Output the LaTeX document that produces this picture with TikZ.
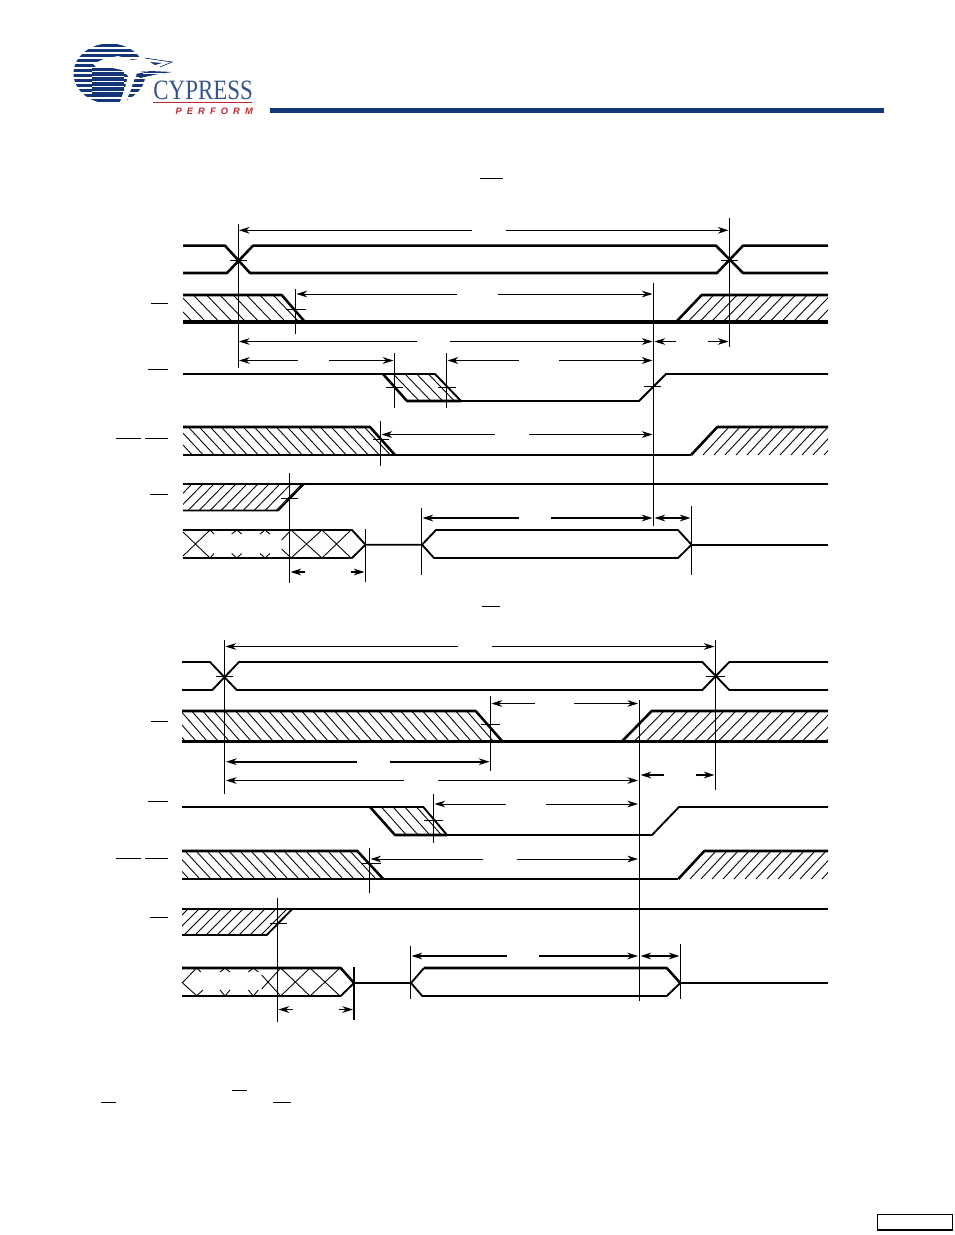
\documentclass[tikz,border=0pt]{standalone}
\usepackage{fontspec}
\setmainfont{Liberation Serif}
\newfontfamily\perffont{Liberation Sans}
\usetikzlibrary{arrows.meta}
\definecolor{cyblue}{RGB}{18,54,120}
\definecolor{cyred}{RGB}{190,40,50}
\tikzset{every picture/.style={line width=0.75pt},
  sigheavy/.style={line width=2.4pt,line join=round},
  sigthick/.style={line width=1.9pt,line join=round},
  sigmed/.style={line width=1.4pt,line join=round},
  hatchln/.style={line width=0.65pt},
  guide/.style={line width=0.7pt},
  tarr/.style={line width=0.7pt,-{Stealth[length=8pt,width=5pt]}},
  tarrb/.style={line width=0.7pt,{Stealth[length=8pt,width=5pt]}-},
  barr/.style={line width=1.4pt,-{Stealth[length=8pt,width=5pt]}},
  barrb/.style={line width=1.4pt,{Stealth[length=8pt,width=5pt]}-},
  barrd/.style={line width=1.4pt,{Stealth[length=8pt,width=5pt]}-{Stealth[length=8pt,width=5pt]}},
  ovbar/.style={line width=0.8pt}}

\begin{document}
\begin{tikzpicture}[x=0.75pt,y=0.75pt,yscale=-1,xscale=1]
\useasboundingbox (0,0) rectangle (954,1235);

%Logo
\begin{scope}
\clip (109.5,73.5) ellipse (36 and 30);
\foreach \y in {44,49,...,104}
  \fill [cyblue] (70,\y) rectangle (150,\y+3.2);
\fill [cyblue] (92,68) rectangle (124,94);
\foreach \y in {71,76,...,91}
  \fill [white] (92,\y) rectangle (124,\y+0.9);
\end{scope}
\fill [white] (93,64) -- (104,59) -- (118,56) -- (132,60) -- (146,58) -- (171,62) -- (160,68) -- (148,71) -- (138,72) -- (134,80) -- (130,92) -- (125,103) -- (120,102) -- (125,88) -- (128,76) -- (122,70) -- (108,67) -- (96,67) -- cycle;
\draw [cyblue,line width=0.5pt] (145,58) -- (158,60) -- (172,62) -- (160,67);
\fill [cyblue] (150,62) -- (162,63) -- (155,65) -- cycle;
\fill [cyblue] (136,74) -- (150,71) -- (172,72) -- (156,74.5) -- (140,78) -- cycle;
\fill [white] (143,72.5) rectangle (163,73.3);
\node (logoname) [xscale=0.82,text=cyblue!85,font=\fontsize{21}{21}\selectfont,inner sep=0pt,anchor=south west] at (153,100.5) {CYPRESS};
\draw [cyred,line width=0.5pt] (153,102.7) -- (252,102.7);
\node (logotag) [text=cyred,inner sep=0pt,anchor=south west] at (175,115) {\makebox[58pt][s]{\perffont\fontsize{7}{7}\selectfont\itshape\bfseries P\hfil E\hfil R\hfil F\hfil O\hfil R\hfil M}};
\fill [cyblue] (270,108.3) rectangle (884,112.8);

%Title bars
\draw [ovbar] (480,178.5) -- (503,178.5);
\draw [ovbar] (482,606.5) -- (500,606.5);

%Upper chart: row labels
\draw [ovbar] (151,303.5) -- (168,303.5);
\draw [ovbar] (148,369.5) -- (168,369.5);
\draw [ovbar] (116,438.5) -- (141,438.5);
\draw [ovbar] (145,438.5) -- (168,438.5);
\draw [ovbar] (150,494.5) -- (168,494.5);

%Upper chart: hatching
\begin{scope}
\clip (183,295) -- (281.7,295) -- (305,322) -- (183,322) -- cycle;
\foreach \x in {153.4,166.7,...,300} \draw [hatchln] (\x,295) -- ++(26,27);
\end{scope}
\begin{scope}
\clip (676,322) -- (701.7,295) -- (828,295) -- (828,322) -- cycle;
\foreach \x in {702,713.7,...,870} \draw [hatchln] (\x,295) -- ++(-26,27);
\end{scope}
\begin{scope}
\clip (383,374) -- (435,374) -- (461,401) -- (407,401) -- cycle;
\foreach \x in {381.6,393.3,...,440} \draw [hatchln] (\x,374) -- ++(26,27);
\end{scope}
\begin{scope}
\clip (183,427) -- (370,427) -- (395,455) -- (183,455) -- cycle;
\foreach \x in {155.3,166.3,...,380} \draw [hatchln] (\x,427) -- ++(26,28);
\end{scope}
\begin{scope}
\clip (691,455) -- (717.3,427) -- (828,427) -- (828,455) -- cycle;
\foreach \x in {718,729,...,870} \draw [hatchln] (\x,427) -- ++(-26,28);
\end{scope}
\begin{scope}
\clip (183,484) -- (304,484) -- (278,510.5) -- (183,510.5) -- cycle;
\foreach \x in {192,203,...,320} \draw [hatchln] (\x,484) -- ++(-26,26.5);
\end{scope}
%Upper chart: crossed bus
\draw [hatchln] (183,532) -- (210,558) (210,530) -- (183,556) (210,530) -- (214,534) (210,558) -- (214,553.5);
\foreach \x in {236.7,265} {
  \draw [hatchln] (\x-5,534) -- (\x,530) -- (\x+5,534);
  \draw [hatchln] (\x-5,553.5) -- (\x,558) -- (\x+5,553.5);
}
\draw [hatchln] (281.7,540) -- (291,530) -- (322,558) -- (351,530);
\draw [hatchln] (281.7,549) -- (291,558) -- (322,530) -- (351,558);

%Upper chart: signals
\draw [sigthick] (183,245.7) -- (225,245.7) -- (250,273) -- (717,273) -- (743,245.7) -- (828,245.7);
\draw [sigthick] (183,273) -- (227,273) -- (253,245.7) -- (716,245.7) -- (743,273) -- (828,273);
\draw [sigthick] (183,295) -- (281.7,295) -- (305,322);
\draw [sigheavy] (183,322) -- (828,322);
\draw [sigthick] (676,322) -- (701.7,295) -- (828,295);
\draw [sigmed] (183,374) -- (435,374) -- (461,401) -- (639,401) -- (666,374) -- (828,374);
\draw [sigthick] (383,374) -- (407,401) -- (461,401);
\draw [sigthick] (183,427) -- (370,427) -- (395,455);
\draw [sigmed] (183,455) -- (691,455);
\draw [sigthick] (691,455) -- (717.3,427) -- (828,427);
\draw [sigmed] (183,484) -- (828,484);
\draw [sigmed] (183,510.5) -- (278,510.5) -- (304,484);
\draw [sigmed] (183,530) -- (352,530) -- (365.5,544.7) -- (352,558) -- (183,558);
\draw [sigmed] (365.5,544.7) -- (422,544.7) -- (436,530) -- (678,530) -- (691.5,544.7) -- (678,558) -- (434,558) -- (422,544.7);
\draw [sigmed] (691.5,544.7) -- (828,544.7);

%Upper chart: guides
\draw [guide] (238.3,224) -- (238.3,368);
\draw [guide] (729.3,218) -- (729.3,347);
\draw [guide] (295.5,289) -- (295.5,334);
\draw [guide] (653.3,283) -- (653.3,526);
\draw [guide] (394.5,353) -- (394.5,408);
\draw [guide] (446.5,353) -- (446.5,408);
\draw [guide] (380.4,421) -- (380.4,466);
\draw [guide] (289.5,473) -- (289.5,583);
\draw [guide] (365.5,529) -- (365.5,582);
\draw [guide] (421.5,508) -- (421.5,575);
\draw [guide] (691.4,506) -- (691.4,575);
\draw [guide] (230,260) -- (247,260);
\draw [guide] (721,260) -- (738,260);
\draw [guide] (285.7,309.3) -- (305.7,309.3);
\draw [guide] (386,387) -- (403,387);
\draw [guide] (438,387) -- (456,387);
\draw [guide] (644,386) -- (661,386);
\draw [guide] (373,439.5) -- (389,439.5);
\draw [guide] (281,498) -- (298,498);

%Upper chart: timing arrows
\draw [tarrb] (239,230.3) -- (472,230.3);
\draw [tarr] (506,230.3) -- (728.5,230.3);
\draw [tarrb] (296.5,294) -- (457,294);
\draw [tarr] (498,294) -- (652.5,294);
\draw [tarrb] (239,341.5) -- (417,341.5);
\draw [tarr] (450,341.5) -- (652.5,341.5);
\draw [tarrb] (654.5,341.5) -- (676,341.5);
\draw [tarr] (708,341.5) -- (728.5,341.5);
\draw [barrb] (239,360.5) -- (298,360.5);
\draw [barr] (329,360.5) -- (393.5,360.5);
\draw [barrb] (447.5,360.5) -- (519,360.5);
\draw [barr] (559,360.5) -- (652.5,360.5);
\draw [tarrb] (381.5,434.5) -- (495,434.5);
\draw [tarr] (529,434.5) -- (652.5,434.5);
\draw [barrb] (422.5,518) -- (519,518);
\draw [barr] (551,518) -- (652.5,518);
\draw [barrd] (654.5,518) -- (690.5,518);
\draw [barrb] (290.5,572) -- (305,572);
\draw [barr] (351,572) -- (364.5,572);

%Lower chart: row labels
\draw [ovbar] (151,721.5) -- (168,721.5);
\draw [ovbar] (148,801.5) -- (168,801.5);
\draw [ovbar] (116,858.5) -- (141,858.5);
\draw [ovbar] (145,858.5) -- (168,858.5);
\draw [ovbar] (150,917.5) -- (168,917.5);

%Lower chart: hatching
\begin{scope}
\clip (182,711) -- (475.7,711) -- (502,741) -- (182,741) -- cycle;
\foreach \x in {147.7,158.7,...,490} \draw [hatchln] (\x,711) -- ++(26.3,30);
\end{scope}
\begin{scope}
\clip (622.3,741) -- (651.7,711) -- (828,711) -- (828,741) -- cycle;
\foreach \x in {652,664,...,870} \draw [hatchln] (\x,711) -- ++(-29.4,30);
\end{scope}
\begin{scope}
\clip (370,807) -- (423.3,807) -- (447,835) -- (395,835) -- cycle;
\foreach \x in {358,369.7,...,430} \draw [hatchln] (\x,807) -- ++(25,28);
\end{scope}
\begin{scope}
\clip (182,851) -- (357.3,851) -- (383.3,879) -- (182,879) -- cycle;
\foreach \x in {152,163,...,370} \draw [hatchln] (\x,851) -- ++(26,28);
\end{scope}
\begin{scope}
\clip (678.3,879) -- (704.3,851) -- (828,851) -- (828,879) -- cycle;
\foreach \x in {705,716,...,870} \draw [hatchln] (\x,851) -- ++(-26,28);
\end{scope}
\begin{scope}
\clip (182,909) -- (292.3,909) -- (266.7,935) -- (182,935) -- cycle;
\foreach \x in {188,199,...,310} \draw [hatchln] (\x,909) -- ++(-26,26);
\end{scope}
%Lower chart: crossed bus
\draw [hatchln] (196.7,968) -- (182.3,982.7) -- (196.7,995.7) -- (203,990);
\draw [hatchln] (196.7,968) -- (200.7,972);
\foreach \x in {225,253.3} {
  \draw [hatchln] (\x-5,972) -- (\x,968) -- (\x+5,972);
  \draw [hatchln] (\x-5,990) -- (\x,996) -- (\x+5,990);
}
\draw [hatchln] (261.7,975) -- (280.7,996) -- (310,968) -- (340,996);
\draw [hatchln] (261.7,989) -- (280.7,968) -- (310,996) -- (340,968);

%Lower chart: signals
\draw [sigmed] (182,662) -- (210,662) -- (236.7,690) -- (702.3,690) -- (729.3,662) -- (828,662);
\draw [sigmed] (182,690) -- (212.3,690) -- (239,662) -- (702.3,662) -- (729.3,690) -- (828,690);
\draw [sigthick] (182,711) -- (475.7,711) -- (502,741);
\draw [sigheavy] (182,741.3) -- (828,741.3);
\draw [sigthick] (622.3,741) -- (651.7,711) -- (828,711);
\draw [sigmed] (182,807) -- (423.3,807) -- (447,835) -- (652,835) -- (679,807) -- (828,807);
\draw [sigthick] (370,807) -- (395,835) -- (447,835);
\draw [sigthick] (182,851) -- (357.3,851) -- (383.3,879);
\draw [sigmed] (182,879) -- (678.3,879);
\draw [sigthick] (678.3,879) -- (704.3,851) -- (828,851);
\draw [sigmed] (182,909) -- (828,909);
\draw [sigmed] (182,935) -- (266.7,935) -- (292.3,909);
\draw [sigthick] (182,968) -- (340.7,968) -- (354,983);
\draw [sigmed] (354,983) -- (340.7,996) -- (182,996);
\draw [sigmed] (354,983) -- (411,983) -- (424,968);
\draw [sigthick] (424,968) -- (666.7,968) -- (680.3,983);
\draw [sigmed] (680.3,983) -- (666.7,996) -- (422.3,996) -- (411,983);
\draw [sigmed] (680.3,983) -- (828,983);

%Lower chart: guides
\draw [guide] (224.5,640) -- (224.5,794);
\draw [guide] (715.5,640) -- (715.5,790);
\draw [guide] (490.4,696) -- (490.4,771);
\draw [guide] (639.2,700) -- (639.2,1000.7);
\draw [guide] (433.4,794) -- (433.4,842.7);
\draw [guide] (369.4,848) -- (369.4,892.7);
\draw [guide] (277.5,898) -- (277.5,1021.7);
\draw [sigmed] (354,967.3) -- (354,1019.5);
\draw [guide] (410.5,946) -- (410.5,999);
\draw [guide] (680.4,944) -- (680.4,998.5);
\draw [guide] (216,676) -- (233,676);
\draw [guide] (706,676) -- (725,676);
\draw [guide] (481,724.3) -- (500,724.3);
\draw [guide] (424,820.3) -- (443,820.3);
\draw [guide] (361,863.5) -- (381,863.5);
\draw [guide] (270,923) -- (287,923);

%Lower chart: timing arrows
\draw [tarrb] (225.5,646.5) -- (458,646.5);
\draw [tarr] (492,646.5) -- (714.5,646.5);
\draw [tarrb] (491.5,703.5) -- (535,703.5);
\draw [tarr] (574,703.5) -- (638,703.5);
\draw [barrb] (226,761.7) -- (357,761.7);
\draw [barr] (390,761.7) -- (489.5,761.7);
\draw [tarrb] (226,780.5) -- (404,780.5);
\draw [tarr] (438,780.5) -- (638,780.5);
\draw [barrb] (640.5,775) -- (664,775);
\draw [barr] (696,775) -- (714.5,775);
\draw [tarrb] (434.5,804) -- (506,804);
\draw [tarr] (546,804) -- (638,804);
\draw [tarrb] (370.5,859) -- (483,859);
\draw [tarr] (517,859) -- (638,859);
\draw [barrb] (411.5,956) -- (507,956);
\draw [barr] (539,956) -- (638,956);
\draw [barrd] (640.5,956) -- (679.5,956);
\draw [barrb] (278.5,1009.5) -- (293,1009.5);
\draw [barr] (339,1009.5) -- (353,1009.5);

%Note bars
\draw [ovbar] (232.3,1090.5) -- (247,1090.5);
\draw [ovbar] (101,1102.5) -- (116,1102.5);
\draw [ovbar] (273.3,1102.5) -- (291,1102.5);

%Page box
\draw [line width=1.1pt] (877.5,1214.5) rectangle (952.3,1230);
\end{tikzpicture}
\end{document}
